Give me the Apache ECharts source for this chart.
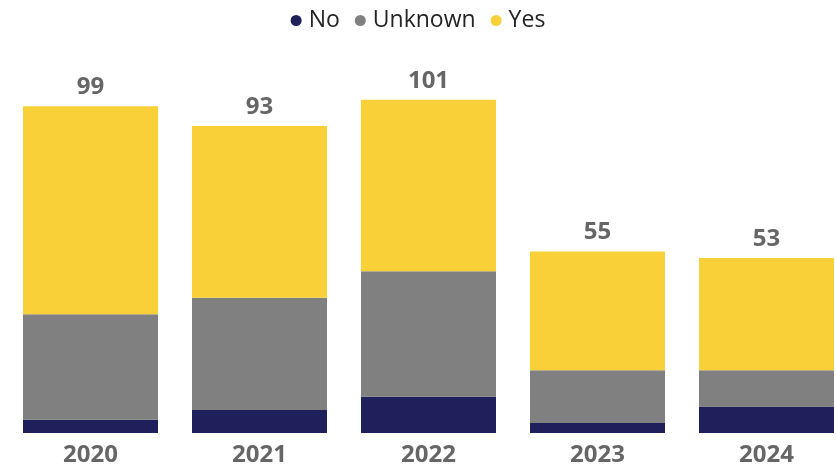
<!DOCTYPE html>
<html>
<head>
<meta charset="utf-8">
<script src="https://cdn.jsdelivr.net/npm/echarts@6/dist/echarts.min.js"></script>
<style>html,body{margin:0;padding:0;background:#fff}#c{width:836px;height:467px}</style>
</head>
<body>
<div id="c"></div>
<script>
var years = ['2020', '2021', '2022', '2023', '2024'];
var noVals = [4, 7, 11, 3, 8];
var unknownVals = [32, 34, 38, 16, 11];
var yesVals = [63, 52, 52, 36, 34];

var totals = years.map(function (_, i) { return noVals[i] + unknownVals[i] + yesVals[i]; });
var font = '"Open Sans", "Segoe UI", sans-serif';

var chart = echarts.init(document.getElementById('c'));
chart.setOption({
  animation: false,
  legend: {
    top: 4,
    left: 'center',
    icon: 'circle',
    itemWidth: 11,
    itemHeight: 11,
    itemGap: 15,
    textStyle: { fontFamily: font, fontSize: 23, color: '#252423', padding: [0, 0, 0, 2] },
    data: ['No', 'Unknown', 'Yes']
  },
  grid: { left: 90.5, width: 676, top: 70, bottom: 32.5, containLabel: false },
  xAxis: {
    type: 'category',
    data: years,
    boundaryGap: false,
    axisLine: { show: false },
    axisTick: { show: false },
    axisLabel: { fontFamily: font, fontSize: 24, fontWeight: 'bold', color: '#666', margin: 10 }
  },
  yAxis: { type: 'value', min: 0, max: 110, show: false, splitLine: { show: false } },
  series: [
    { name: 'No', type: 'bar', stack: 'a', barWidth: 135, data: noVals, itemStyle: { color: '#1F1F5B' } },
    { name: 'Unknown', type: 'bar', stack: 'a', barWidth: 135, data: unknownVals, itemStyle: { color: '#808080' } },
    { name: 'Yes', type: 'bar', stack: 'a', barWidth: 135, data: yesVals, itemStyle: { color: '#F9D038' },
      label: { show: true, position: 'top', distance: 7, fontFamily: font, fontSize: 24, fontWeight: 'bold', color: '#666',
        formatter: function (p) { return totals[p.dataIndex]; } } }
  ]
});
</script>
</body>
</html>
